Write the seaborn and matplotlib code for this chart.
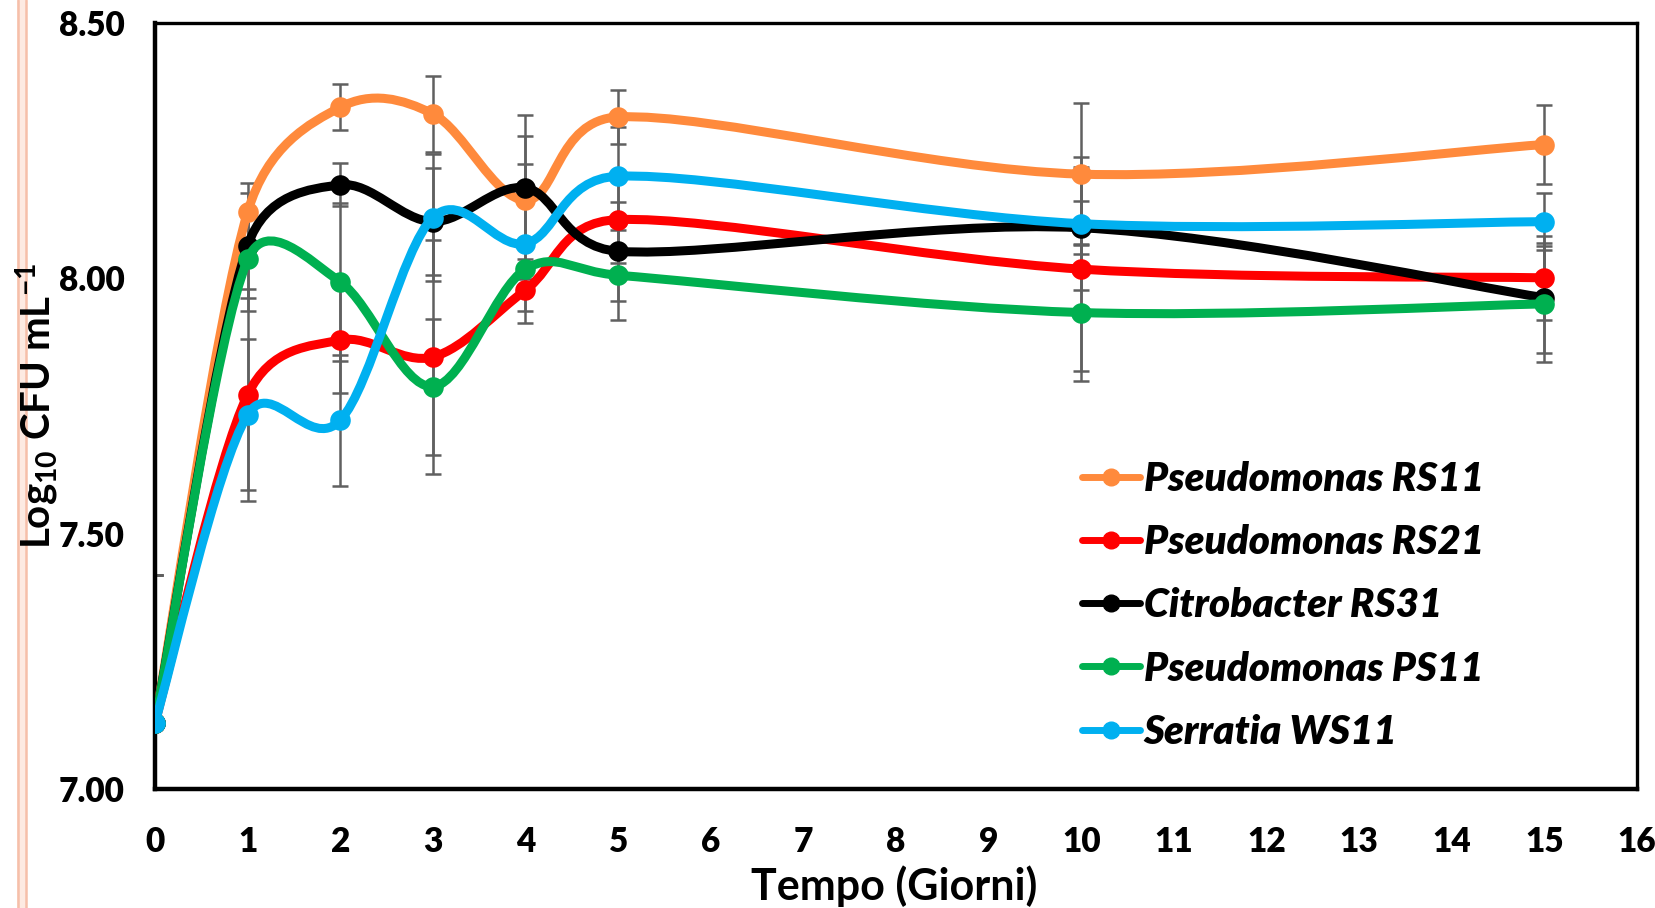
import numpy as np
import matplotlib
matplotlib.use("Agg")
import matplotlib.pyplot as plt
import seaborn as sns
from matplotlib.path import Path
from matplotlib.patches import PathPatch, Rectangle
from matplotlib.lines import Line2D

# ---------------- data ----------------
days = [0, 1, 2, 3, 4, 5, 10, 15]
series_names = ["Pseudomonas RS11", "Pseudomonas RS21", "Citrobacter RS31",
                "Pseudomonas PS11", "Serratia WS11"]
rs11 = [7.13, 8.130, 8.335, 8.322, 8.153, 8.316, 8.204, 8.262]
rs11_err = [0.29, 0.056, 0.045, 0.075, 0.167, 0.053, 0.139, 0.077]
rs21 = [7.13, 7.772, 7.879, 7.846, 7.977, 8.115, 8.018, 8.001]
rs21_err = [0.29, 0.208, 0.104, 0.230, 0.041, 0.085, 0.200, 0.082]
rs31 = [7.13, 8.064, 8.183, 8.111, 8.177, 8.053, 8.099, 7.962]
rs31_err = [0.29, 0.103, 0.042, 0.105, 0.102, 0.097, 0.052, 0.108]
ps11 = [7.13, 8.037, 7.993, 7.788, 8.018, 8.006, 7.933, 7.950]
ps11_err = [0.29, 0.100, 0.155, 0.133, 0.020, 0.088, 0.134, 0.114]
ws11 = [7.13, 7.733, 7.722, 8.119, 8.068, 8.200, 8.107, 8.111]
ws11_err = [0.29, 0.148, 0.128, 0.124, 0.156, 0.096, 0.130, 0.056]
series_values = [rs11, rs21, rs31, ps11, ws11]
series_errors = [rs11_err, rs21_err, rs31_err, ps11_err, ws11_err]
colors = ["#FF8A3C", "#FF0000", "#000000", "#00B050", "#00B0F0"]
x_ticks = list(range(0, 17))
y_ticks = [7.0, 7.5, 8.0, 8.5]
y_tick_labels = ["7.00", "7.50", "8.00", "8.50"]

# ---------------- style ----------------
sns.set_theme(style="white")
plt.rcParams["font.family"] = ["Lato", "DejaVu Sans"]
plt.rcParams["font.weight"] = "bold"
plt.rcParams["text.color"] = "black"
plt.rcParams["axes.labelcolor"] = "black"
plt.rcParams["xtick.color"] = "black"
plt.rcParams["ytick.color"] = "black"
plt.rcParams["mathtext.fontset"] = "custom"
plt.rcParams["mathtext.rm"] = "Lato:bold"
plt.rcParams["mathtext.it"] = "Lato:bold"
plt.rcParams["mathtext.bf"] = "Lato:bold"


def smooth_path(ax, x, y, tension=1.0 / 6.0):
    """Excel-like smoothed line built from cubic Bezier segments through the data points.
    Control-point lengths are limited to half the segment length (in screen space)."""
    pts = np.column_stack([x, y]).astype(float)
    scr = ax.transData.transform(pts)
    n = len(pts)
    verts = [pts[0]]
    codes = [Path.MOVETO]

    def dist(a, b):
        return float(np.hypot(*(scr[a] - scr[b])))

    for i in range(n - 1):
        i0 = i - 1 if i > 0 else i
        i3 = i + 2 if i + 2 < n else i + 1
        d12 = dist(i, i + 1)
        d02 = dist(i0, i + 1)
        d13 = dist(i, i3)
        f1 = tension
        if d02 > 0 and f1 * d02 > d12 / 2:
            f1 = d12 / (2 * d02)
        f2 = tension
        if d13 > 0 and f2 * d13 > d12 / 2:
            f2 = d12 / (2 * d13)
        c1 = pts[i] + f1 * (pts[i + 1] - pts[i0])
        c2 = pts[i + 1] - f2 * (pts[i3] - pts[i])
        verts += [c1, c2, pts[i + 1]]
        codes += [Path.CURVE4] * 3
    return Path(verts, codes)


W, H = 1656, 908
fig = plt.figure(figsize=(W / 100, H / 100), dpi=100)
ax = fig.add_axes([155 / W, 1 - 789 / H, (1637 - 155) / W, (789 - 23) / H])
ax.set_xlim(0, 16)
ax.set_ylim(7.0, 8.5)

# decorative pink stripes at the left edge
fig.add_artist(Rectangle((17 / W, 0), 10 / W, 1, transform=fig.transFigure,
                         facecolor="#FDEAE2", edgecolor="none", zorder=0))
for xs in (18 / W, 26 / W):
    fig.add_artist(Line2D([xs, xs], [0, 1], transform=fig.transFigure,
                          color="#F6BFA9", lw=1.8, zorder=1))

# error bars
for vals, errs in zip(series_values, series_errors):
    ax.errorbar(days, vals, yerr=errs, fmt="none", ecolor="#606060",
                elinewidth=1.8, capsize=6, capthick=1.8, zorder=2)

# smoothed lines + markers
for k, (name, vals, c) in enumerate(zip(series_names, series_values, colors)):
    patch = PathPatch(smooth_path(ax, days, vals), facecolor="none", edgecolor=c,
                      lw=6.5, capstyle="round", joinstyle="round", zorder=3 + 2 * k)
    ax.add_patch(patch)
    sns.scatterplot(x=days, y=vals, color=c, s=220, linewidth=0, ax=ax,
                    zorder=4 + 2 * k, legend=False)

ax.set_xlim(0, 16)
ax.set_ylim(7.0, 8.5)
ax.set_xticks(x_ticks)
ax.set_xticklabels([str(t) for t in x_ticks])
ax.set_yticks(y_ticks)
ax.set_yticklabels(y_tick_labels)
ax.tick_params(axis="both", which="major", direction="out", length=8, width=2.5,
               colors="black", labelsize=24, pad=14)
ax.tick_params(axis="x", pad=19)
for lab in ax.get_xticklabels() + ax.get_yticklabels():
    lab.set_fontweight("heavy")
for side in ["left", "bottom"]:
    ax.spines[side].set_linewidth(3.2)
for side in ["top", "right"]:
    ax.spines[side].set_linewidth(2.4)
for sp in ax.spines.values():
    sp.set_color("black")
    sp.set_visible(True)
ax.set_xlabel("")
ax.set_ylabel("")

fig.text(894 / W, 1 - 886 / H, "Tempo (Giorni)", ha="center", va="center",
         fontsize=31, fontweight="bold", color="black")
fig.text(37 / W, 1 - 406 / H, r"Log$_{10}$ CFU mL$^{-1}$", ha="center",
         va="center", rotation=90, fontsize=29, fontweight="bold", color="black")

handles = [Line2D([], [], color=c, lw=5, marker="o", markersize=12,
                  solid_capstyle="round") for c in colors]
leg = fig.legend(handles, series_names, loc="upper left",
                 bbox_to_anchor=(1082 / W, 1 - 461 / H),
                 bbox_transform=fig.transFigure, frameon=False,
                 prop={"family": ["Lato", "DejaVu Sans"], "weight": "heavy",
                       "style": "italic", "size": 29},
                 handlelength=1.45, handletextpad=0.08, labelspacing=0.65,
                 borderpad=0, borderaxespad=0)
for t in leg.get_texts():
    t.set_color("black")

fig.savefig("out.png", dpi=100)
